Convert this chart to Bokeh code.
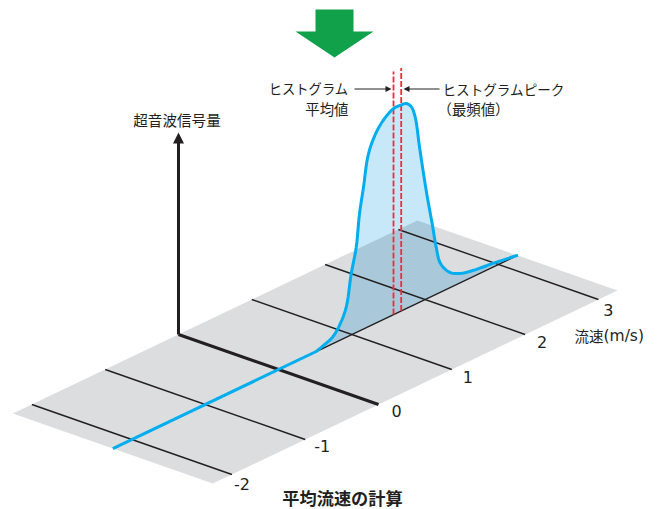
from bokeh.plotting import figure
from bokeh.models import Range1d
from bokeh.core.properties import value
from bokeh.embed import file_html
from bokeh.resources import INLINE

# --- data ---
velocity = [-2.26, 0.514, 0.63, 0.737, 0.832, 0.924, 0.992, 1.06, 1.105, 1.16, 1.218, 1.286, 1.40, 1.569, 1.674,
            1.742, 1.81, 1.865, 1.924, 2.015, 2.105, 2.151, 2.21, 2.333, 2.469, 2.651, 2.924, 3.265]
signal = [0, 0, 3, 6.5, 15, 30, 61, 85, 117, 142, 170, 184, 197, 206, 206,
          205, 199.6, 187, 155, 108.5, 68.6, 47, 28.6, 15.6, 9.6, 6.2, 3.7, 0]
tick_values = [-2, -1, 0, 1, 2, 3]
tick_labels = ["-2", "-1", "0", "1", "2", "3"]
floor_v = [-2.26, 3.26]
mean_v = 1.569
peak_v = 1.674
dash_height = 243

# --- projection (velocity, across, height) to the page ---
O = (179, 334)
VX, VY = 73.3, -35
UX, UY = 200, 70


def proj(v, u=0.5, h=0):
    return O[0] + VX * v + UX * u, O[1] + VY * v + UY * u - h


def smooth(pts, n=6):
    """Centripetal Catmull-Rom path through the given points (drawing only)."""
    out = [pts[0]]
    P = [pts[0]] + list(pts) + [pts[-1]]
    for i in range(1, len(P) - 2):
        p0, p1, p2, p3 = P[i - 1], P[i], P[i + 1], P[i + 2]
        d = lambda a, b: max(((a[0] - b[0]) ** 2 + (a[1] - b[1]) ** 2) ** 0.25, 1e-6)
        t0 = 0
        t1 = t0 + d(p0, p1)
        t2 = t1 + d(p1, p2)
        t3 = t2 + d(p2, p3)
        for k in range(1, n + 1):
            t = t1 + (t2 - t1) * k / n
            pt = []
            for c in (0, 1):
                a1 = (t1 - t) / (t1 - t0) * p0[c] + (t - t0) / (t1 - t0) * p1[c] if t1 > t0 else p1[c]
                a2 = (t2 - t) / (t2 - t1) * p1[c] + (t - t1) / (t2 - t1) * p2[c]
                a3 = (t3 - t) / (t3 - t2) * p2[c] + (t - t2) / (t3 - t2) * p3[c] if t3 > t2 else p2[c]
                b1 = (t2 - t) / (t2 - t0) * a1 + (t - t0) / (t2 - t0) * a2
                b2 = (t3 - t) / (t3 - t1) * a2 + (t - t1) / (t3 - t1) * a3
                pt.append((t2 - t) / (t2 - t1) * b1 + (t - t1) / (t2 - t1) * b2)
            out.append(tuple(pt))
    return out


def clip(poly, inside):
    out = []
    for i, a in enumerate(poly):
        b = poly[(i + 1) % len(poly)]
        fa, fb = inside(a), inside(b)
        if fa >= 0:
            out.append(a)
        if fa * fb < 0:
            t = fa / (fa - fb)
            out.append((a[0] + t * (b[0] - a[0]), a[1] + t * (b[1] - a[1])))
    return out


INK = "#231f20"
BLUE = "#00aeef"
RED = "#ee2a3c"
FONT = value("Noto Sans CJK JP")
LATIN = value("DejaVu Sans")

p = figure(width=665, height=509, x_range=Range1d(1, 666), y_range=Range1d(509, 0),
           output_backend="svg", toolbar_location=None, min_border=0, outline_line_color=None,
           background_fill_color=None, border_fill_color=None)
p.axis.visible = False
p.grid.visible = False

# floor
corners = [proj(floor_v[0], 0), proj(floor_v[1], 0), proj(floor_v[1], 1), proj(floor_v[0], 1)]
p.patch([c[0] for c in corners], [c[1] for c in corners], color="#dcddde", line_color=None)

# filled area under the histogram
raw = [proj(v, 0.5, h) for v, h in zip(velocity, signal)]
poly = smooth(raw[1:])
curve = [raw[0]] + poly
start = velocity[1]
p.patch([c[0] for c in poly], [c[1] for c in poly], fill_color="#c6e8f9", line_color=None)


def above_back_left(pt):
    return (pt[1] - O[1]) - VY / VX * (pt[0] - O[0])


def above_back_right(pt):
    tl = proj(floor_v[1], 0)
    return (pt[1] - tl[1]) - UY / UX * (pt[0] - tl[0])


dark = clip(clip(poly, above_back_left), above_back_right)
p.patch([c[0] for c in dark], [c[1] for c in dark], fill_color="#a9c9da", line_color=None)

# tick lines
for v in tick_values:
    a, b = proj(v, 0), proj(v, 1)
    p.line([a[0], b[0]], [a[1], b[1]], line_color=INK, line_width=3 if v == 0 else 1.4)

# baseline
a, b = proj(start), proj(velocity[-1])
p.line([a[0], b[0]], [a[1], b[1]], line_color=INK, line_width=1.4)

# dashed markers
for v in (mean_v, peak_v):
    bx, by = proj(v)
    p.line([bx, bx], [by, by - dash_height], line_color=RED, line_width=1.8, line_dash="6 2")

# signal curve
p.line([c[0] for c in curve], [c[1] for c in curve], line_color=BLUE, line_width=3, line_join="round")

# vertical axis
p.line([O[0], O[0]], [O[1], 140], line_color=INK, line_width=3)
p.patch([O[0], O[0] - 5.5, O[0] + 5.5], [132, 143, 143], color=INK, line_color=None)

# top arrow
p.patch([316, 354, 354, 374, 335, 296, 316], [9, 9, 31, 31, 57, 31, 31], color="#12a14b", line_color=None)

# callout arrows
p.line([355, 389], [88.5, 88.5], line_color=INK, line_width=1)
p.patch([392, 386, 386], [88.5, 85.5, 91.5], color=INK, line_color=None)
p.line([407, 440], [88.5, 88.5], line_color=INK, line_width=1)
p.patch([404, 410, 410], [88.5, 85.5, 91.5], color=INK, line_color=None)


def label(x, y, s, size, align="left", weight="normal", font=FONT):
    p.text([x], [y], text=[s], text_font=font, text_font_size=f"{size}px", text_color=INK,
           text_align=align, text_baseline="middle", text_font_style=weight)


label(349, 88, "ヒストグラム", 13.3, "right")
label(349, 108, "平均値", 14.4, "right")
label(443, 88, "ヒストグラムピーク", 13.6)
label(438, 108, "（最頻値）", 14.4)
label(177.5, 119, "超音波信号量", 14.6, "center")
label(575, 335, "流速", 14.5)
label(604, 335, "(m/s)", 15.5, font=LATIN)
label(343, 496.5, "平均流速の計算", 17.2, "center", "bold")

# tick labels sit at slightly different offsets from their tick ends
tick_label_dx = [10, 17, 18, 16, 17, 10]
tick_label_dy = [9.5, 6.5, 6.5, 7, 7.5, 10.5]
for v, s, dx, dy in zip(tick_values, tick_labels, tick_label_dx, tick_label_dy):
    x, y = proj(v, 1)
    label(x + dx, y + dy, s, 16, "center", font=LATIN)

open("out.html", "w").write(file_html(p, INLINE))
